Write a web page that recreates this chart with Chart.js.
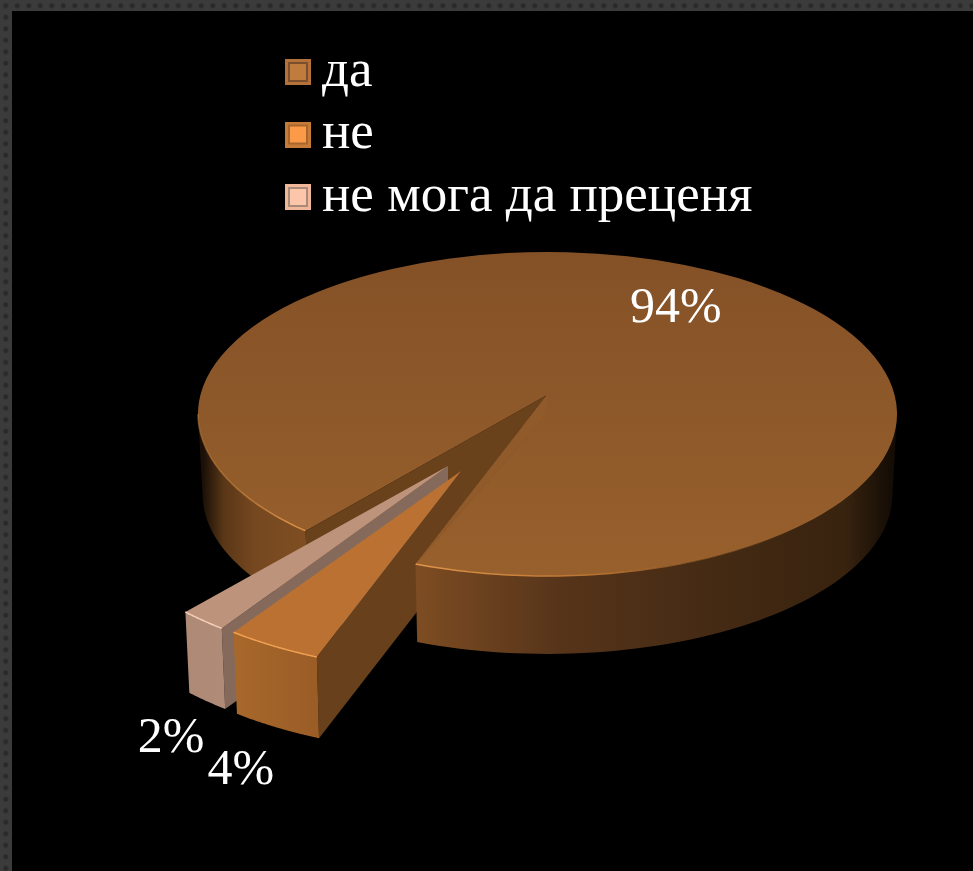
<!DOCTYPE html>
<html>
<head>
<meta charset="utf-8">
<title>Pie</title>
<script src="https://cdn.jsdelivr.net/npm/chart.js@4"></script>
<style>
html, body { margin: 0; height: 100%; overflow: hidden; }
body {
    background-color: #3b3b3b;
    background-image: radial-gradient(#2a2a2a 2px, transparent 3px);
    background-size: 11.5px 11.5px;
}
#panel { position: absolute; left: 12px; top: 11px; right: 0; bottom: 0; background: #000; }
#pie { position: absolute; left: 0; top: 0; }
</style>
</head>
<body>
<div id="panel"></div>
<canvas id="pie" width="973" height="871"></canvas>
<script>
const categories = ['да', 'не', 'не мога да преценя'];
const shares = [94, 4, 2];

const topColors = ['#8f5a29', '#ba7132', '#bd937c'];
const rimColors = ['#e0954a', '#f0a050', '#f6cfba'];
const wallColors = ['#69421c', '#68401b', '#856a5c'];
const frontColors = [null, ['#a8682b', '#9a5d26'], ['#ae8a76', '#b08c78']];
const swatchColors = [
    ['#b5713a', '#7c4f2c', '#c07c3c'],
    ['#c67c38', '#a8662c', '#fb9b48'],
    ['#f0b79a', '#a98a78', '#fcc6ab']
];

// the pie lies tilted, every slice gets its own squash and origin
const views = [
    { x: 547.5, y: 414, sx: 0.9986, sy: 0.4629, depth: 80, shrink: 0.987 },
    { x: 461, y: 471, sx: 1.09, sy: 0.574, depth: 84, shrink: 0.985 },
    { x: 448, y: 466, sx: 1.084, sy: 0.578, depth: 83, shrink: 0.985 }
];
const apex = [547, 395];
const labelFont = '50px "Liberation Serif"';
const labelShift = [[-5, -10], [-33, 125], [-32, 118]];
const labelReach = [0.7, 1, 1];

function makeSwatch(colors) {
    // transparent strip on the left moves the box right of the legend's point centre
    const c = document.createElement('canvas');
    c.width = 39;
    c.height = 26;
    const g = c.getContext('2d');
    g.fillStyle = colors[0];
    g.fillRect(13, 0, 26, 26);
    g.fillStyle = colors[1];
    g.fillRect(16, 3, 20, 20);
    g.fillStyle = colors[2];
    g.fillRect(18, 5, 16, 16);
    return c;
}

function rimPoint(el, i, angle, k, dz) {
    const v = views[i];
    return [
        v.x + Math.cos(angle) * el.outerRadius * v.sx * k,
        v.y + Math.sin(angle) * el.outerRadius * v.sy * k + dz
    ];
}

function fillPoly(ctx, pts, style) {
    ctx.beginPath();
    pts.forEach((p, n) => (n ? ctx.lineTo(p[0], p[1]) : ctx.moveTo(p[0], p[1])));
    ctx.closePath();
    ctx.fillStyle = style;
    ctx.fill();
}

function arcWall(ctx, el, i, a0, a1, style) {
    const v = views[i];
    const pts = [];
    const steps = 60;
    for (let n = 0; n <= steps; n++) pts.push(rimPoint(el, i, a0 + (a1 - a0) * n / steps, 1, 0));
    for (let n = steps; n >= 0; n--) pts.push(rimPoint(el, i, a0 + (a1 - a0) * n / steps, v.shrink, v.depth));
    fillPoly(ctx, pts, style);
}

function sideWall(ctx, el, i, from, angle, style) {
    const v = views[i];
    const p = rimPoint(el, i, angle, 1, 0);
    const q = rimPoint(el, i, angle, v.shrink, v.depth);
    fillPoly(ctx, [from, p, q, [from[0], from[1] + v.depth]], style);
}

function rimLine(ctx, el, i, a0, a1, style, width) {
    ctx.beginPath();
    const steps = 60;
    for (let n = 0; n <= steps; n++) {
        const p = rimPoint(el, i, a0 + (a1 - a0) * n / steps, 1, 0);
        if (n) ctx.lineTo(p[0], p[1]); else ctx.moveTo(p[0], p[1]);
    }
    ctx.strokeStyle = style;
    ctx.lineWidth = width;
    ctx.stroke();
}

function drawTop(ctx, el, i) {
    const v = views[i];
    ctx.save();
    ctx.translate(v.x, v.y);
    ctx.scale(v.sx, v.sy);
    ctx.translate(-el.x, -el.y);
    el.draw(ctx);
    ctx.restore();
}

function hGradient(ctx, x0, x1, stops) {
    const g = ctx.createLinearGradient(x0, 0, x1, 0);
    stops.forEach(s => g.addColorStop(s[0], s[1]));
    return g;
}

const pie3d = {
    id: 'pie3d',
    afterLayout(chart) {
        const legend = chart.legend;
        legend.left = 278;
        legend.right = 973;
        legend.top = 36;
        legend.bottom = 240;
    },
    beforeDatasetsDraw(chart) {
        const ctx = chart.ctx;
        const arcs = chart.getDatasetMeta(0).data;
        const main = arcs[0];
        const a0 = main.startAngle;
        const a1 = main.endAngle;
        const toPi = Math.PI * 2;
        const rimA = rimPoint(main, 0, a0, 1, 0);
        const rimB = rimPoint(main, 0, a1, 1, 0);

        // back parts of the main slice
        sideWall(ctx, main, 0, apex, a0, wallColors[0]);
        arcWall(ctx, main, 0, a0, Math.PI, hGradient(ctx, 203, 307, [[0, '#1a1007'], [0.2, '#5a3717'], [0.5, '#764820'], [1, '#7f4e22']]));

        // the two pulled out slices, back one first
        [2, 1].forEach(i => {
            const el = arcs[i];
            const v = views[i];
            sideWall(ctx, el, i, [v.x, v.y], el.startAngle, wallColors[i]);
            const l = rimPoint(el, i, el.endAngle, 1, 0)[0];
            const r = rimPoint(el, i, el.startAngle, 1, 0)[0];
            arcWall(ctx, el, i, el.startAngle, el.endAngle, hGradient(ctx, l, r, [[0, frontColors[i][0]], [1, frontColors[i][1]]]));
            drawTop(ctx, el, i);
            rimLine(ctx, el, i, el.startAngle, el.endAngle, rimColors[i], 1.5);
        });

        // front wall and top of the main slice go over the slices' hidden ends
        arcWall(ctx, main, 0, toPi, a1, hGradient(ctx, 418, 892, [
            [0, '#7d4c22'], [0.3, '#56341a'], [0.6, '#462b14'], [0.9, '#38230f'], [1, '#140c05']
        ]));
        ctx.save();
        ctx.beginPath();
        ctx.rect(0, 0, chart.width, chart.height);
        ctx.moveTo(apex[0], apex[1]);
        ctx.lineTo(apex[0] + (rimA[0] - apex[0]) * 1.1, apex[1] + (rimA[1] - apex[1]) * 1.1);
        ctx.lineTo(apex[0] + (rimB[0] - apex[0]) * 1.1, apex[1] + (rimB[1] - apex[1]) * 1.1);
        ctx.closePath();
        ctx.clip('evenodd');
        drawTop(ctx, main, 0);
        // sliver between the sector's own tip and the raised apex
        fillPoly(ctx, [apex, [views[0].x, views[0].y], rimB], '#905a2a');
        ctx.strokeStyle = '#905a2a';
        ctx.lineWidth = 1;
        ctx.stroke();
        rimLine(ctx, main, 0, a1, toPi + 0.7, hGradient(ctx, 418, 800, [[0, rimColors[0]], [0.5, '#b5702f'], [1, 'rgba(150,95,45,0)']]), 1.5);
        rimLine(ctx, main, 0, a0, Math.PI, hGradient(ctx, 200, 307, [[0, 'rgba(200,130,60,0.5)'], [1, rimColors[0]]]), 1.5);
        ctx.restore();

        // percent labels
        ctx.font = labelFont;
        ctx.fillStyle = '#fff';
        ctx.textAlign = 'center';
        ctx.textBaseline = 'middle';
        arcs.forEach((el, i) => {
            const mid = (el.startAngle + el.endAngle) / 2;
            const p = rimPoint(el, i, mid, labelReach[i], 0);
            ctx.fillText(shares[i] + '%', p[0] + labelShift[i][0], p[1] + labelShift[i][1]);
        });
        return false;
    }
};

const pieCtx = document.getElementById('pie').getContext('2d');

new Chart(pieCtx, {
    type: 'pie',
    data: {
        labels: categories,
        datasets: [{
            data: shares,
            borderWidth: 0,
            backgroundColor: c => {
                if (c.dataIndex !== 0 || !c.chart.chartArea) return topColors[c.dataIndex];
                const area = c.chart.chartArea;
                const cy = (area.top + area.bottom) / 2;
                const g = c.chart.ctx.createLinearGradient(0, cy - 350, 0, cy + 350);
                g.addColorStop(0, '#845127');
                g.addColorStop(1, '#98602c');
                return g;
            }
        }]
    },
    options: {
        responsive: false,
        animation: false,
        events: [],
        radius: 350,
        rotation: 223.8,
        plugins: {
            tooltip: { enabled: false },
            legend: {
                position: 'left',
                align: 'start',
                labels: {
                    color: '#fff',
                    font: { family: '"Liberation Serif"', size: 53 },
                    usePointStyle: true,
                    pointStyleWidth: 8,
                    padding: 9.5,
                    generateLabels: () => categories.map((text, i) => ({
                        text,
                        fontColor: '#fff',
                        pointStyle: makeSwatch(swatchColors[i]),
                        lineWidth: 0,
                        index: i
                    }))
                }
            }
        }
    },
    plugins: [pie3d]
});
</script>
</body>
</html>
